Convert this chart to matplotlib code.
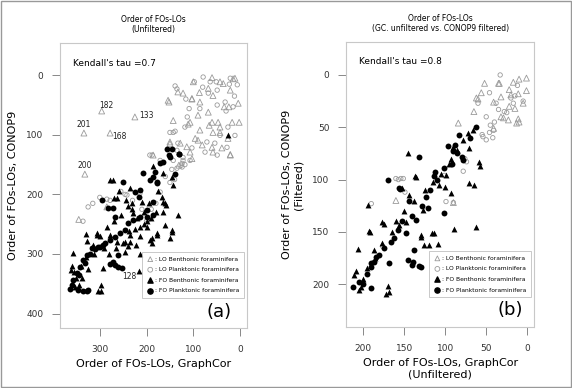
import matplotlib.pyplot as plt
from matplotlib.patches import Rectangle

# ===== DATA =====
# panel (a): GraphCor order (x) vs CONOP9 order (y), unfiltered
a_lob_x = [296, 225, 334, 278, 332, 345, 186, 154, 133, 103, 100, 60, 43, 15, 21, 4, 86, 111, 66, 43,
           90, 58, 21, 43, 103, 114, 150, 34, 2, 68, 152, 122, 103, 87, 58, 36, 11, 24, 68, 90,
           107, 143, 60, 47, 17, 86, 58, 26, 96, 128, 150, 60, 21, 39, 107, 81, 131, 285, 199]
a_lob_y = [60, 70, 97, 97, 166, 242, 134, 42, 28, 39, 11, 4, 11, 6, 25, 47, 45, 82, 84, 87,
           109, 129, 134, 96, 140, 120, 115, 53, 79, 22, 45, 30, 40, 29, 34, 14, 5, 53, 62, 67,
           79, 76, 79, 79, 79, 92, 96, 106, 106, 114, 112, 121, 133, 122, 129, 117, 151, 221, 240]

a_lop_x = [139, 135, 98, 79, 64, 51, 21, 23, 6, 49, 68, 116, 109, 49, 32, 15, 113, 86, 139, 118,
           43, 11, 26, 71, 103, 54, 28, 75, 49, 107, 122, 135, 124, 118, 150, 143, 171, 124, 188, 171,
           278, 325, 246, 336, 285, 242, 214, 193, 135, 126, 122, 146, 133, 143, 300, 315, 230, 255, 160,
           150, 140, 180, 190, 210, 12, 30, 80]
a_lop_y = [18, 23, 11, 3, 11, 11, 5, 15, 16, 25, 30, 40, 56, 50, 45, 53, 70, 56, 94, 87,
           101, 101, 87, 112, 122, 114, 121, 129, 134, 143, 138, 126, 154, 150, 96, 143, 143, 148, 134, 196,
           210, 221, 200, 245, 208, 201, 198, 134, 156, 151, 143, 158, 114, 96, 205, 215, 210, 195, 170,
           180, 175, 215, 225, 225, 35, 60, 20]

a_fob_x = [216, 26, 278, 143, 133, 160, 165, 146, 160, 189, 150, 178, 236, 246, 306, 328, 358, 293, 298, 298,
           303, 186, 165, 146, 272, 235, 231, 210, 165, 158, 270, 263, 362, 360, 355, 258, 245, 232, 220, 205,
           215, 200, 228, 240, 255, 270, 285, 300, 315, 330, 340, 350, 345, 352, 338, 325, 312, 290, 280, 265,
           250, 238, 225, 214, 200, 190, 180, 168, 175, 195, 205, 222, 215, 240, 330, 306, 278, 263, 246, 236,
           193, 178, 146, 188]
a_fob_y = [329, 101, 176, 185, 235, 215, 230, 260, 252, 273, 273, 265, 268, 297, 265, 278, 299, 324, 352, 362,
           362, 153, 164, 171, 175, 190, 215, 213, 213, 218, 206, 206, 327, 320, 330, 195, 210, 225, 240, 250,
           255, 245, 232, 220, 235, 245, 255, 270, 285, 305, 320, 340, 352, 355, 340, 325, 300, 290, 300, 290,
           282, 262, 258, 270, 255, 240, 230, 205, 195, 215, 230, 285, 300, 287, 266, 268, 268, 280, 280, 280,
           277, 268, 263, 282]

a_fop_x = [156, 146, 131, 152, 171, 165, 208, 182, 186, 193, 178, 251, 225, 214, 186, 150, 131, 178, 139, 272,
           296, 199, 214, 229, 240, 246, 257, 268, 278, 289, 300, 310, 317, 328, 336, 343, 349, 358, 360, 364,
           347, 336, 328, 278, 268, 261, 253, 272, 261, 304, 293, 283, 268, 325, 186, 199, 216, 320, 332, 345]
a_fop_y = [124, 124, 133, 134, 148, 145, 164, 163, 171, 176, 180, 180, 196, 193, 213, 137, 133, 181, 165, 223,
           210, 226, 238, 243, 248, 260, 265, 272, 277, 282, 288, 291, 290, 302, 310, 322, 332, 344, 352, 359,
           361, 362, 362, 316, 319, 322, 324, 314, 302, 288, 285, 223, 238, 361, 235, 238, 204, 300, 315, 335]

# panel (b): GraphCor order (x, unfiltered) vs CONOP9 order (y, filtered)
b_lob_x = [52, 56, 60, 35, 22, 10, 1, 1, 11, 32, 22, 5, 32, 23, 11, 13, 41, 65, 84, 62,
           29, 10, 15, 17, 20, 34, 41, 90, 160]
b_lob_y = [8, 17, 23, 8, 14, 4, 3, 15, 18, 21, 30, 27, 40, 43, 42, 46, 51, 35, 46, 22,
           41, 45, 32, 7, 19, 8, 26, 122, 120]

b_lop_x = [33, 46, 38, 35, 17, 50, 46, 54, 50, 41, 60, 157, 151, 74, 76, 12, 20, 28, 40, 45,
           55, 25, 15, 5, 42, 190, 160, 154, 149, 99, 90, 101, 176, 78]
b_lop_y = [0, 17, 27, 33, 27, 40, 55, 59, 62, 53, 27, 100, 99, 83, 80, 10, 22, 35, 45, 48,
           57, 36, 20, 25, 60, 123, 99, 99, 112, 121, 122, 96, 164, 92]

b_fob_x = [66, 71, 90, 145, 93, 59, 58, 135, 99, 71, 65, 137, 144, 194, 177, 193, 156, 148, 127, 129,
           116, 126, 89, 206, 177, 187, 107, 100, 93, 152, 209, 211, 205, 172, 168, 170, 192, 175, 63, 120,
           109, 130, 114, 200, 195, 185, 165, 160, 150, 138, 125, 115, 105, 95, 85, 78, 72, 203]
b_fob_y = [53, 70, 69, 75, 80, 83, 87, 98, 96, 103, 105, 97, 115, 124, 141, 149, 143, 141, 129, 153,
           151, 163, 147, 166, 161, 167, 105, 107, 113, 108, 187, 191, 206, 209, 207, 202, 150, 142, 145, 163,
           162, 155, 151, 195, 185, 175, 150, 140, 130, 120, 110, 102, 95, 85, 72, 62, 55, 203]

b_fop_x = [62, 70, 83, 96, 88, 80, 78, 90, 132, 102, 112, 170, 156, 155, 144, 123, 121, 102, 135, 148,
           162, 166, 175, 180, 187, 190, 145, 139, 138, 168, 129, 212, 190, 190, 184, 140, 132, 200, 205, 195,
           85, 92, 110, 118, 128, 140, 152, 158, 113]
b_fop_y = [50, 60, 57, 68, 67, 78, 81, 73, 78, 89, 93, 100, 108, 109, 120, 117, 127, 132, 139, 151,
           156, 160, 165, 172, 179, 184, 177, 179, 167, 180, 184, 203, 204, 180, 174, 182, 183, 200, 198, 190,
           75, 85, 100, 110, 125, 135, 140, 148, 97]

a_labels = {"182": (296, 60), "201": (334, 97), "168": (278, 97), "133": (225, 70), "200": (332, 166), "128": (216, 329)}

legend_names = [": LO Benthonic foraminifera", ": LO Planktonic foraminifera",
                ": FO Benthonic foraminifera", ": FO Planktonic foraminifera"]

GRAY = "#9a9a9a"


def draw_panel(ax, series, xlim, ylim, xticks, yticks):
    (lob, lop, fob, fop) = series
    ax.scatter(lob[0], lob[1], marker="^", s=18, facecolors="none", edgecolors=GRAY, linewidths=0.6)
    ax.scatter(lop[0], lop[1], marker="o", s=10, facecolors="none", edgecolors=GRAY, linewidths=0.6)
    ax.scatter(fob[0], fob[1], marker="^", s=18, color="black", linewidths=0)
    ax.scatter(fop[0], fop[1], marker="o", s=18, color="black", linewidths=0)
    ax.set_xlim(*xlim)
    ax.set_ylim(*ylim)
    ax.set_xticks(xticks)
    ax.set_yticks(yticks)
    for s in ax.spines.values():
        s.set_color("#c8c8c8")
        s.set_linestyle((0, (1, 1)))
        s.set_linewidth(0.8)
    ax.tick_params(length=6, width=0.7, color="#888888", labelsize=6.5, labelcolor="#333333", pad=6)

    # legend box, drawn by hand like the original
    hand = [ax.scatter([], [], marker="^", s=12, facecolors="none", edgecolors=GRAY, linewidths=0.6),
            ax.scatter([], [], marker="o", s=12, facecolors="none", edgecolors=GRAY, linewidths=0.6),
            ax.scatter([], [], marker="^", s=14, color="black"),
            ax.scatter([], [], marker="o", s=14, color="black")]
    leg = ax.legend(hand, legend_names, loc="lower right", bbox_to_anchor=(0.99, 0.1),
                    fontsize=4.3, frameon=True, fancybox=False, handletextpad=0.2,
                    borderpad=0.8, labelspacing=0.9, handlelength=1.2, borderaxespad=0.2)
    leg.get_frame().set_edgecolor("#b0b0b0")
    leg.get_frame().set_linewidth(0.6)


fig = plt.figure(figsize=(5.72, 3.88), dpi=100)
fig.patches.append(Rectangle((0.002, 0.003), 0.996, 0.994, transform=fig.transFigure,
                             fill=False, edgecolor="#999999", linewidth=1.0))

ax1 = fig.add_axes([0.105, 0.155, 0.327, 0.734])
ax2 = fig.add_axes([0.605, 0.157, 0.329, 0.735])

draw_panel(ax1, [(a_lob_x, a_lob_y), (a_lop_x, a_lop_y), (a_fob_x, a_fob_y), (a_fop_x, a_fop_y)],
           (385, -15), (424, -54), [300, 200, 100, 0], [0, 100, 200, 300, 400])
draw_panel(ax2, [(b_lob_x, b_lob_y), (b_lop_x, b_lop_y), (b_fob_x, b_fob_y), (b_fop_x, b_fop_y)],
           (220.7, -8.5), (241, -31.6), [200, 150, 100, 50, 0], [0, 50, 100, 150, 200])

for name, (lx, ly) in a_labels.items():
    dx, dy = {"182": (-10, -10), "201": (0, -14), "168": (-20, 6), "133": (-25, -2),
              "200": (0, -14), "128": (20, 9)}[name]
    ax1.text(lx + dx, ly + dy, name, fontsize=5.5, ha="center", va="center", color="#222222")

ax1.text(0.07, 0.93, "Kendall's tau =0.7", transform=ax1.transAxes, fontsize=6.5, va="center")
ax2.text(0.07, 0.93, "Kendall's tau =0.8", transform=ax2.transAxes, fontsize=6.5, va="center")
ax1.text(0.85, 0.055, "(a)", transform=ax1.transAxes, fontsize=13, ha="center", va="center")
ax2.text(0.87, 0.06, "(b)", transform=ax2.transAxes, fontsize=13, ha="center", va="center")

ax1.set_title("Order of FOs-LOs\n(Unfiltered)", fontsize=5.5, pad=8, linespacing=1.1)
ax2.set_title("Order of FOs-LOs\n(GC. unfiltered vs. CONOP9 filtered)", fontsize=5.5, pad=8, linespacing=1.1)
ax1.set_xlabel("Order of FOs-LOs, GraphCor", fontsize=8, labelpad=4)
ax1.set_ylabel("Order of FOs-LOs, CONOP9", fontsize=8, labelpad=6)
ax2.set_xlabel("Order of FOs-LOs, GraphCor\n(Unfiltered)", fontsize=8, labelpad=4)
ax2.set_ylabel("Order of FOs-LOs, CONOP9\n(Filtered)", fontsize=8, labelpad=6)

fig.savefig("out.png", dpi=100)
